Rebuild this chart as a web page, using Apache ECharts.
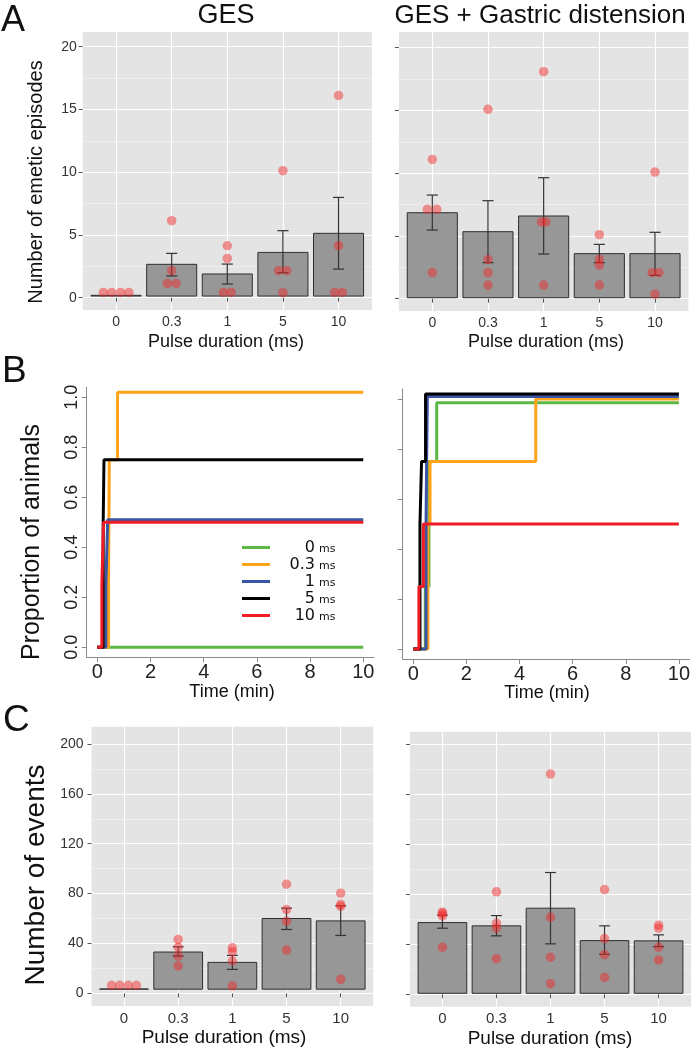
<!DOCTYPE html>
<html><head><meta charset="utf-8">
<script src="https://cdn.jsdelivr.net/npm/echarts@6/dist/echarts.min.js"></script>
<style>html,body{margin:0;padding:0;background:#fff}#c{width:693px;height:1050px}</style>
</head><body><div id="c"></div>
<script>
// ---------------- DATA ----------------
const categories = ['0', '0.3', '1', '5', '10'];
const tickA = [0, 5, 10, 15, 20];
const tickC = [0, 40, 80, 120, 160, 200];
const tickTime = [0, 2, 4, 6, 8, 10];
const tickProp = [0, 0.2, 0.4, 0.6, 0.8, 1.0];

// Panel A, GES
const gesMean = [0.19, 2.66, 1.89, 3.61, 5.13];
const gesBase = 0.13;
const gesLow  = [null, 1.73, 1.09, 1.99, 2.28];
const gesHigh = [null, 3.53, 2.68, 5.34, 7.99];
const gesPts  = [[0.42, 0.42, 0.42, 0.42], [6.14, 2.15, 1.14, 1.14], [4.14, 3.13, 0.42, 0.42], [10.12, 2.15, 2.15, 0.4], [16.12, 4.14, 0.42, 0.42]];
const gesJit  = [[-0.23, -0.08, 0.08, 0.23], [0, 0, -0.08, 0.08], [0, 0, -0.07, 0.07], [0, -0.08, 0.07, 0], [0, 0, -0.07, 0.07]];

// Panel A, GES + Gastric distension
const gdMean = [6.85, 5.34, 6.59, 3.59, 3.59];
const gdBase = 0.08;
const gdLow  = [5.47, 2.87, 3.56, 2.87, 1.86];
const gdHigh = [8.26, 7.81, 9.64, 4.33, 5.29];
const gdPts  = [[11.1, 7.12, 7.12, 2.07], [15.09, 3.13, 2.07, 1.09], [18.09, 6.11, 6.11, 1.09], [5.1, 3.13, 2.68, 1.09], [10.09, 2.07, 2.07, 0.37]];
const gdJit  = [[0, -0.09, 0.08, 0], [0, 0, 0, 0], [0, -0.04, 0.04, 0], [0, 0, 0, 0], [0, -0.05, 0.07, 0]];

// Panel B, proportion of animals (step curves) [time, proportion]
const gesCurve0  = [[0, 0], [10, 0]];
const gesCurve03 = [[0, 0], [0.42, 0.25], [0.45, 0.75], [0.76, 1.02], [10, 1.02]];
const gesCurve1  = [[0, 0], [0.32, 0.25], [0.39, 0.51], [10, 0.51]];
const gesCurve5  = [[0, 0], [0.22, 0.5], [0.25, 0.75], [10, 0.75]];
const gesCurve10 = [[0, 0], [0.17, 0.25], [0.23, 0.5], [10, 0.5]];
const gdCurve0  = [[0, 0], [0.45, 0.25], [0.59, 0.75], [0.88, 0.985], [10, 0.985]];
const gdCurve03 = [[0, 0], [0.55, 0.5], [0.63, 0.75], [4.61, 1.0], [10, 1.0]];
const gdCurve1  = [[0, 0], [0.48, 0.5], [0.5, 0.75], [0.53, 1.01], [10, 1.01]];
const gdCurve5  = [[0, 0], [0.25, 0.5], [0.31, 0.75], [0.46, 1.02], [10, 1.02]];
const gdCurve10 = [[0, 0], [0.21, 0.25], [0.38, 0.5], [10, 0.5]];

// Panel C, GES
const evMean = [3.5, 33.1, 24.8, 60.0, 58.1];
const evBase = 3.3;
const evLow  = [null, 29.9, 19.2, 51.2, 46.4];
const evHigh = [null, 37.3, 30.4, 68.3, 70.2];
const evPts  = [[6.4, 6.4, 6.4, 6.4], [43.2, 36.8, 29.9, 21.9], [36.5, 33.3, 25.9, 5.9], [87.5, 67.2, 57.9, 34.7], [80.3, 71.4, 69.8, 11.2]];
const evJit  = [[-0.23, -0.08, 0.08, 0.23], [0, 0, 0, 0], [0, 0, 0, 0], [0, 0, 0, 0], [0, 0, 0, 0]];

// Panel C, GES + Gastric distension
const gdEvMean = [57.3, 54.7, 68.8, 42.9, 42.7];
const gdEvBase = 0.8;
const gdEvLow  = [52.8, 46.7, 40.3, 32.0, 38.1];
const gdEvHigh = [63.2, 62.9, 97.3, 54.7, 47.5];
const gdEvPts  = [[65.6, 64.8, 62.7, 37.6], [81.9, 56.8, 52.8, 28.5], [176.0, 61.6, 29.6, 8.5], [83.7, 44.5, 31.7, 13.6], [55.2, 52.8, 37.6, 27.5]];
const gdEvJit  = [[0, 0, 0, 0], [0, 0, 0, 0], [0, 0, 0, 0], [0, 0, 0, 0], [0, 0, 0, 0]];

// ---------------- STYLE / LAYOUT ----------------
const FONT = '"Liberation Sans", Arial, sans-serif';
const BAR_W = 0.9, CAP_W = 0.2;
const curveColors = ['#5cb845', '#ffa31a', '#3a54a6', '#000000', '#ee1c24'];
const curveNames = ['0', '0.3', '1', '5', '10'];
const catPos = categories.map((c, i) => i + 1);

const chart = echarts.init(document.getElementById('c'));

const grids = [
  {left: 82.7, top: 32, width: 289.2, height: 278},     // A left
  {left: 398.9, top: 32, width: 289.5, height: 279},    // A right
  {left: 86.7, top: 387.3, width: 287.2, height: 270},  // B left
  {left: 402.7, top: 389, width: 287.3, height: 270},   // B right
  {left: 91.5, top: 726.7, width: 281.7, height: 279.3},// C left
  {left: 410, top: 731.7, width: 281, height: 275}      // C right
].map((g, i) => Object.assign({
  show: i !== 2 && i !== 3, backgroundColor: '#e4e4e4', borderWidth: 0, containLabel: false
}, g));

function catX(gi, fs) {
  return {
    type: 'value', gridIndex: gi, min: 0.4, max: 5.6, minInterval: 1, maxInterval: 1,
    axisLine: {show: false},
    axisTick: {show: true, length: 4, customValues: catPos, lineStyle: {color: '#555'}},
    axisLabel: {customValues: catPos, formatter: v => categories[Math.round(v) - 1], fontSize: fs, color: '#333', margin: 5, fontFamily: FONT},
    splitLine: {show: true, lineStyle: {color: '#ffffff', width: 1.2}}
  };
}
function valY(gi, min, max, step, ticks, showLabels, margin) {
  return {
    type: 'value', gridIndex: gi, min, max, minInterval: step, maxInterval: step,
    axisLine: {show: false},
    axisTick: {show: true, length: 4, customValues: ticks, lineStyle: {color: '#555'}},
    axisLabel: {show: showLabels, customValues: ticks, fontSize: 14, color: '#333', margin, fontFamily: FONT},
    splitLine: {show: true, lineStyle: {color: '#ffffff', width: 1.2}},
    minorTick: {show: false, splitNumber: 2},
    minorSplitLine: {show: true, lineStyle: {color: '#f2f2f2', width: 0.7}}
  };
}
function timeX(gi) {
  return {
    type: 'value', gridIndex: gi, min: -0.4, max: 10.4, minInterval: 2, maxInterval: 2,
    axisLine: {show: true, onZero: false, lineStyle: {color: '#8a8a8a', width: 1}},
    axisTick: {show: true, length: 5, customValues: tickTime, lineStyle: {color: '#8a8a8a'}},
    axisLabel: {customValues: tickTime, fontSize: 20, color: '#222', margin: 5, fontFamily: FONT},
    splitLine: {show: false}
  };
}
function propY(gi, showLabels) {
  return {
    type: 'value', gridIndex: gi, min: -0.04, max: 1.04, minInterval: 0.2, maxInterval: 0.2,
    axisLine: {show: true, onZero: false, lineStyle: {color: '#8a8a8a', width: 1}},
    axisTick: {show: true, length: 5, customValues: tickProp, lineStyle: {color: '#8a8a8a'}},
    axisLabel: {show: showLabels, customValues: tickProp, rotate: 90, formatter: v => v.toFixed(1), fontSize: 18, color: '#222', margin: 6, fontFamily: FONT},
    splitLine: {show: false}
  };
}

const xAxes = [catX(0, 14), catX(1, 14), timeX(2), timeX(3), catX(4, 15), catX(5, 15)];
const yAxes = [
  valY(0, -0.98, 21.17, 5, tickA, true, 6),
  valY(1, -0.98, 21.25, 5, tickA, false, 6),
  propY(2, true),
  propY(3, false),
  valY(4, -10.2, 213.9, 40, tickC, true, 8),
  valY(5, -9.9, 209.8, 40, tickC, false, 8)
];

function renderBar(params, api) {
  const x = api.value(0), top = api.value(1), base = api.value(2);
  const a = api.coord([x - BAR_W / 2, top]);
  const b = api.coord([x + BAR_W / 2, base]);
  return {type: 'rect', shape: {x: a[0], y: a[1], width: b[0] - a[0], height: Math.max(b[1] - a[1], 0.1)},
    style: {fill: '#979797', stroke: '#2e2e2e', lineWidth: 1}};
}
function renderErr(params, api) {
  const x = api.value(0), lo = api.value(1), hi = api.value(2);
  const t = api.coord([x, hi]), b = api.coord([x, lo]);
  const hw = api.size([CAP_W / 2, 0])[0];
  const st = {stroke: '#333333', lineWidth: 1.2};
  return {type: 'group', children: [
    {type: 'line', shape: {x1: t[0], y1: t[1], x2: b[0], y2: b[1]}, style: st},
    {type: 'line', shape: {x1: t[0] - hw, y1: t[1], x2: t[0] + hw, y2: t[1]}, style: st},
    {type: 'line', shape: {x1: b[0] - hw, y1: b[1], x2: b[0] + hw, y2: b[1]}, style: st}
  ]};
}
function barPanel(gi, mean, base, low, high, pts, jit) {
  const barData = mean.map((m, i) => [catPos[i], m, base]);
  const errData = [];
  low.forEach((l, i) => { if (l != null) errData.push([catPos[i], l, high[i]]); });
  const ptData = [];
  pts.forEach((arr, i) => arr.forEach((v, k) => ptData.push([catPos[i] + jit[i][k], v])));
  return [
    {type: 'custom', xAxisIndex: gi, yAxisIndex: gi, renderItem: renderBar, data: barData, encode: {x: 0, y: 1}, z: 2, silent: true},
    {type: 'custom', xAxisIndex: gi, yAxisIndex: gi, renderItem: renderErr, data: errData, encode: {x: 0, y: [1, 2]}, z: 3, silent: true},
    {type: 'scatter', xAxisIndex: gi, yAxisIndex: gi, data: ptData, symbolSize: 9.5, z: 4, silent: true,
      itemStyle: {color: 'rgba(240,40,40,0.6)', borderWidth: 0}}
  ];
}
function curvePanel(gi, curves) {
  return curves.map((d, i) => ({
    type: 'line', name: curveNames[i], xAxisIndex: gi, yAxisIndex: gi, data: d, step: 'end',
    showSymbol: false, symbol: 'none', silent: true, z: 2 + i,
    itemStyle: {color: curveColors[i]}, lineStyle: {color: curveColors[i], width: 3}
  }));
}

const series = [].concat(
  barPanel(0, gesMean, gesBase, gesLow, gesHigh, gesPts, gesJit),
  barPanel(1, gdMean, gdBase, gdLow, gdHigh, gdPts, gdJit),
  curvePanel(2, [gesCurve0, gesCurve03, gesCurve1, gesCurve5, gesCurve10]),
  curvePanel(3, [gdCurve0, gdCurve03, gdCurve1, gdCurve5, gdCurve10]),
  barPanel(4, evMean, evBase, evLow, evHigh, evPts, evJit),
  barPanel(5, gdEvMean, gdEvBase, gdEvLow, gdEvHigh, gdEvPts, gdEvJit)
);

function txt(text, x, y, fs, opts, align) {
  return Object.assign({type: 'text', x, y, silent: true,
    style: {text, fontSize: fs, fontFamily: FONT, fill: '#111', textAlign: align || 'center', textVerticalAlign: 'middle'}}, opts || {});
}
const graphics = [
  txt('A', 1, 21, 36, null, 'left'),
  txt('B', 2, 372, 37, null, 'left'),
  txt('C', 3, 721, 37, null, 'left'),
  txt('GES', 226, 16, 27),
  txt('GES + Gastric distension', 540, 16, 26),
  txt('Number of emetic episodes', 36, 182, 20, {rotation: Math.PI / 2}),
  txt('Pulse duration (ms)', 226, 342, 18),
  txt('Pulse duration (ms)', 546, 342, 18),
  txt('Proportion of animals', 32, 542, 25, {rotation: Math.PI / 2}),
  txt('Time (min)', 232, 692, 18),
  txt('Time (min)', 547, 693, 18),
  txt('Number of events', 36, 875, 28, {rotation: Math.PI / 2}),
  txt('Pulse duration (ms)', 224, 1038, 19),
  txt('Pulse duration (ms)', 550, 1039, 19)
];
// legend for panel B (left)
const LEG_FONT = '"DejaVu Sans", sans-serif';
curveNames.forEach((n, i) => {
  const y = 547.5 + 17 * i;
  graphics.push({type: 'line', silent: true, shape: {x1: 242, y1: y, x2: 270, y2: y}, style: {stroke: curveColors[i], lineWidth: 3}});
  graphics.push({type: 'text', silent: true, x: 315, y: y + 0.5, style: {text: n, fontSize: 16, fontFamily: LEG_FONT, fill: '#111', textAlign: 'right', textVerticalAlign: 'middle'}});
  graphics.push({type: 'text', silent: true, x: 319, y: y + 2, style: {text: 'ms', fontSize: 11, fontFamily: LEG_FONT, fill: '#111', textAlign: 'left', textVerticalAlign: 'middle'}});
});

chart.setOption({
  animation: false,
  grid: grids,
  xAxis: xAxes,
  yAxis: yAxes,
  series,
  graphic: graphics
});
</script>
</body></html>
